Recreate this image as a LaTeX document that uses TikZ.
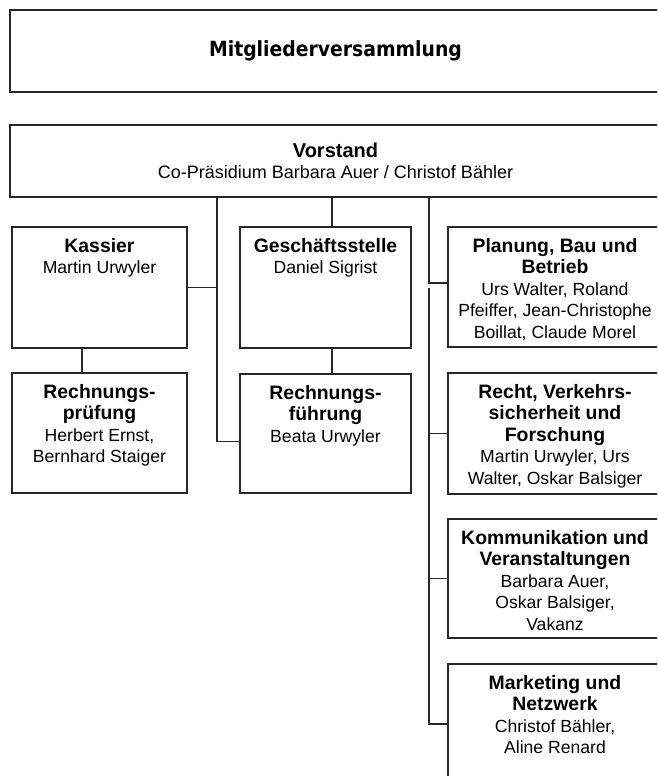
\documentclass[tikz,border=0pt]{standalone}
\usepackage{fontspec}
\setmainfont{Liberation Sans}
\newfontfamily\versfont{DejaVu Sans Condensed Bold}
\usetikzlibrary{positioning}
\newcommand{\kopf}{\fontsize{19.4}{21.5}\selectfont\bfseries}

\begin{document}
\begin{tikzpicture}[x=1pt,y=-1pt]
\tikzstyle{box}=[rectangle,draw=black!85,line width=1.3pt,inner sep=0pt,outer sep=0pt]
\tikzstyle{leftbox}=[box,minimum width=175pt,minimum height=121pt]
\tikzstyle{sidebox}=[box,minimum width=214pt,minimum height=120pt]
\tikzstyle{boxtext}=[align=center,inner sep=0pt,font=\fontsize{17.6}{21.5}\selectfont]
\tikzstyle{link}=[draw=black!85,line width=1.3pt]

\useasboundingbox (0,0) rectangle (657,776);
\clip (0,0) rectangle (657,776);

% top of the chart
\node[box,minimum width=651pt,minimum height=82pt] (mitglieder) at (335.5,51)
  {\versfont\fontsize{20.9}{24}\selectfont Mitgliederversammlung};
\node[box,minimum width=651pt,minimum height=72pt,align=center,
  font=\fontsize{18}{21.5}\selectfont] (vorstand) at (335.5,161)
  {{\fontsize{20}{21.5}\selectfont\bfseries Vorstand}\\Co-Präsidium Barbara Auer / Christof Bähler};

% left and middle column
\node[leftbox] (kassier) at (99.5,287.5) {};
\node[leftbox,minimum width=171pt] (geschaeft) at (325.5,287.5) {};
\node[leftbox,minimum height=120pt] (pruefung) [below=25pt of kassier] {};
\node[leftbox,minimum width=171pt,minimum height=119pt] (fuehrung) [below=26pt of geschaeft] {};

% right column
\node[sidebox] (planung) at (555,287) {};
\node[sidebox,minimum height=121pt] (recht) [below=26pt of planung] {};
\node[sidebox,minimum height=119pt] (kommunikation) [below=25pt of recht] {};
\node[sidebox] (marketing) [below=26pt of kommunikation] {};

\node[boxtext,below=11pt of kassier.north] (kassier text)
  {{\kopf Kassier}\\Martin Urwyler};
\node[boxtext,below=11pt of geschaeft.north] (geschaeft text)
  {{\kopf Geschäftsstelle}\\Daniel Sigrist};
\node[boxtext,below=11pt of pruefung.north] (pruefung text)
  {{\kopf Rechnungs-}\\{\kopf prüfung}\\Herbert Ernst,\\Bernhard Staiger};
\node[boxtext,below=11pt of fuehrung.north] (fuehrung text)
  {{\kopf Rechnungs-}\\{\kopf führung}\\Beata Urwyler};
\node[boxtext,below=11pt of planung.north] (planung text)
  {{\kopf Planung, Bau und}\\{\kopf Betrieb}\\Urs Walter, Roland\\Pfeiffer, Jean-Christophe\\Boillat, Claude Morel};
\node[boxtext,below=11pt of recht.north] (recht text)
  {{\kopf Recht, Verkehrs-}\\{\kopf sicherheit und}\\{\kopf Forschung}\\Martin Urwyler, Urs\\Walter, Oskar Balsiger};
\node[boxtext,below=11pt of kommunikation.north] (kommunikation text)
  {{\kopf Kommunikation und}\\{\kopf Veranstaltungen}\\Barbara Auer,\\Oskar Balsiger,\\Vakanz};
\node[boxtext,below=11pt of marketing.north] (marketing text)
  {{\kopf Marketing und}\\{\kopf Netzwerk}\\Christof Bähler,\\Aline Renard};

% connectors
\coordinate (kasse drop) at (82,0);
\coordinate (left bus) at (217,0);
\coordinate (mid bus) at (332,0);
\coordinate (right bus) at (429,0);

\draw[link] (vorstand.south -| left bus) |- ([yshift=-8pt]fuehrung.west);
\draw[link] (kassier.east) -- (kassier.east -| left bus);
\draw[link] (vorstand.south -| mid bus) -- (geschaeft.north -| mid bus);
\draw[link] (geschaeft.south -| mid bus) -- (fuehrung.north -| mid bus);
\draw[link] (kassier.south -| kasse drop) -- (pruefung.north -| kasse drop);
\draw[link] (vorstand.south -| right bus) |- ([yshift=4pt]planung.west);
\draw[link] ([yshift=-1pt]planung.west -| right bus) |- (marketing.west);
\foreach \n in {recht,kommunikation}
  \draw[link] (\n.west -| right bus) -- (\n.west);
\end{tikzpicture}
\end{document}
